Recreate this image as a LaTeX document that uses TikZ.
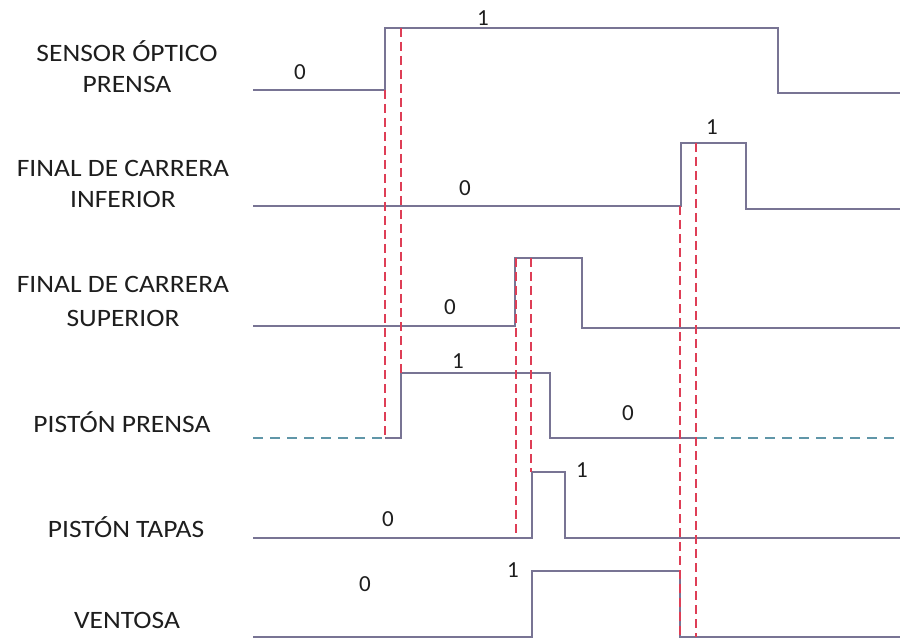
\documentclass[tikz,border=0pt]{standalone}
\usepackage{fontspec}
\setmainfont{Carlito}
\definecolor{wave}{RGB}{120,116,148}
\definecolor{redd}{RGB}{222,62,86}
\definecolor{teal2}{RGB}{96,150,168}
\definecolor{txt}{RGB}{30,30,30}
\begin{document}
\begin{tikzpicture}[x=1pt,y=-1pt,
  wv/.style={draw=wave,line width=1.5pt,line join=miter},
  tealdash/.style={draw=teal2,line width=1.5pt,dash pattern=on 10pt off 7pt},
  reddash/.style={draw=redd,line width=1.6pt,dash pattern=on 9pt off 5pt},
  lbl/.style={font=\fontsize{25}{30}\selectfont,text=txt,anchor=base,xscale=1.1,inner sep=0pt},
  num/.style={font=\fontsize{23}{28}\selectfont,text=txt,anchor=base,inner sep=0pt}]
\useasboundingbox[fill=white] (0,0) rectangle (900,639);
% labels
\node[lbl] (l1a) at (127,62) {SENSOR ÓPTICO};
\node[lbl] (l1b) at (127,93) {PRENSA};
\node[lbl] (l2a) at (123,177) {FINAL DE CARRERA};
\node[lbl] (l2b) at (123,208) {INFERIOR};
\node[lbl] (l3a) at (123,293) {FINAL DE CARRERA};
\node[lbl] (l3b) at (123,326) {SUPERIOR};
\node[lbl] (l4) at (122,432) {PISTÓN PRENSA};
\node[lbl] (l5) at (126,537) {PISTÓN TAPAS};
\node[lbl] (l6) at (127,628) {VENTOSA};
% waveforms
\draw[wv] (253,90) -- (385,90) -- (385,28) -- (778,28) -- (778,93) -- (900,93);
\draw[wv] (253,206) -- (681,206) -- (681,143) -- (746,143) -- (746,209) -- (900,209);
\draw[wv] (253,326) -- (515,326) -- (515,258) -- (582,258) -- (582,328) -- (900,328);
\draw[tealdash] (253,438) -- (385,438);
\draw[wv] (385,438) -- (401,438) -- (401,373) -- (550,373) -- (550,438) -- (697,438);
\draw[tealdash] (697,438) -- (900,438);
\draw[wv] (253,538) -- (532,538) -- (532,472) -- (565,472) -- (565,538) -- (900,538);
\draw[wv] (253,637) -- (532,637) -- (532,571) -- (680,571) -- (680,637) -- (900,637);
% red dashed markers
\draw[reddash] (385,90) -- (385,438);
\draw[reddash] (401,28) -- (401,373);
\draw[reddash] (516,258) -- (516,538);
\draw[reddash] (531,258) -- (531,472);
\draw[reddash] (680,206) -- (680,637);
\draw[reddash] (696,143) -- (696,637);
% values
\node[num] (v1a) at (300,80) {0};
\node[num] (v1b) at (483,26) {1};
\node[num] (v2a) at (465,196) {0};
\node[num] (v2b) at (712,135) {1};
\node[num] (v3a) at (450,314) {0};
\node[num] (v4a) at (458,368) {1};
\node[num] (v4b) at (628,420) {0};
\node[num] (v5a) at (582,477) {1};
\node[num] (v5b) at (388,526) {0};
\node[num] (v6a) at (513,577) {1};
\node[num] (v6b) at (365,591) {0};
\end{tikzpicture}
\end{document}
